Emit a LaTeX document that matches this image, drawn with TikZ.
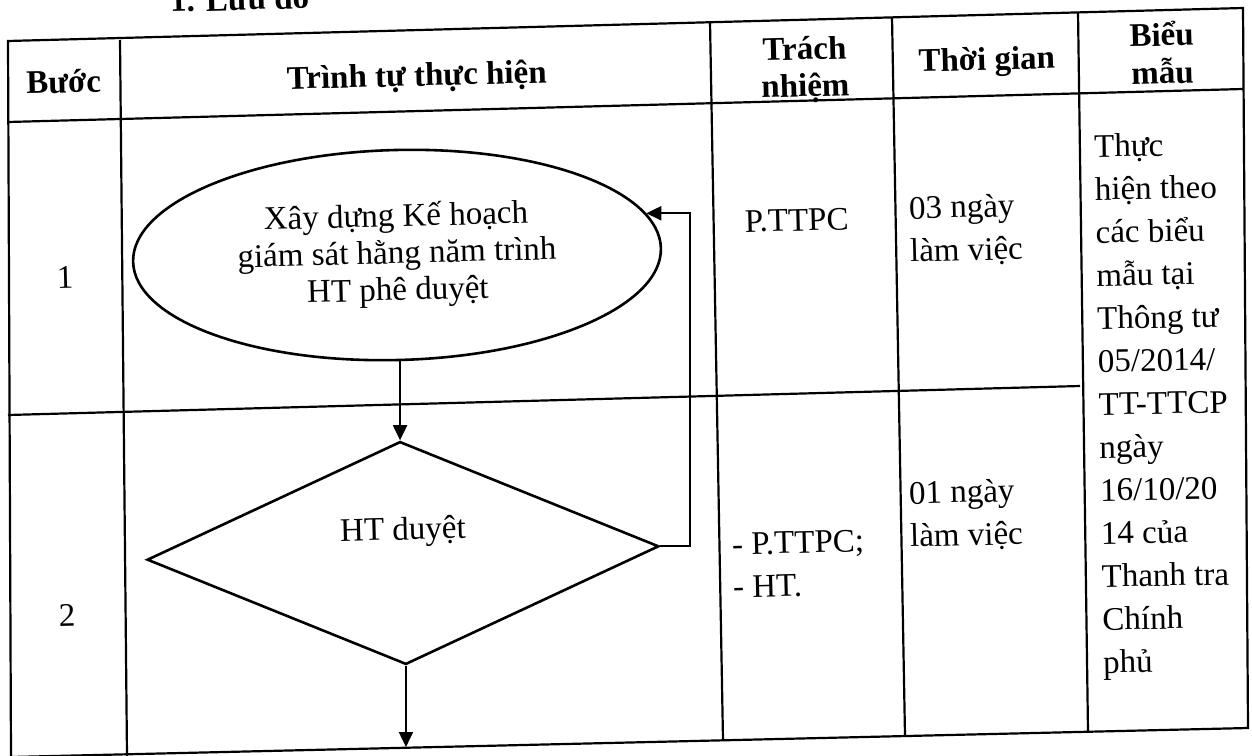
\documentclass[tikz,border=0pt]{standalone}
\usepackage{fontspec}
\setmainfont{Liberation Serif}
\usetikzlibrary{arrows.meta,shapes.geometric}
\begin{document}
\begin{tikzpicture}[x=0.5pt,y=-0.5pt,
  tline/.style={line width=1.1pt},
  shapeline/.style={line width=1.3pt},
  conn/.style={line width=1pt,-{Triangle[length=7.5pt,width=7pt]}},
  txt/.style={font=\fontsize{16.5}{21.5}\selectfont,inner sep=0pt,rotate=1.5},
  hd/.style={txt,font=\fontsize{16.5}{20}\selectfont\bfseries,align=center},
  body/.style={txt,align=left,anchor=base west},
]
\useasboundingbox (0,0) rectangle (1252,755);
\clip (0,0) rectangle (1252,755);
% table frame
\draw[tline] (8,41) -- (1243,8) -- (1248,728) -- (11,757) -- cycle;
\draw[tline] (8,122) -- (1243,89);
\draw[tline] (8,415) -- (1080,386);
\draw[tline] (120,40) -- (127,756);
\draw[tline] (710,22) -- (723,740);
\draw[tline] (892,17) -- (905,736);
\draw[tline] (1078,12) -- (1088,732);
% title and headers
\node[hd,anchor=base west] (title) at (170,12) {1. Lưu đồ};
\node[hd,anchor=base] (hstep) at (64,93) {Bước};
\node[hd,anchor=base] (hproc) at (417,86) {Trình tự thực hiện};
\node[hd,font=\fontsize{16.5}{18.5}\selectfont\bfseries] (hresp) at (805,70) {Trách\\nhiệm};
\node[hd,anchor=base] (htime) at (987,70) {Thời gian};
\node[hd,font=\fontsize{16.5}{19}\selectfont\bfseries] (hform) at (1162,53) {Biểu\\mẫu};
% step numbers
\node[txt] (n1) at (65,277) {1};
\node[txt] (n2) at (67,615) {2};
% flowchart
\node[ellipse,draw,shapeline,minimum width=264pt,minimum height=105pt,inner sep=0pt,
      txt,align=center,font=\fontsize{16.5}{18.5}\selectfont] (el) at (397,255)
      {Xây dựng Kế hoạch\\giám sát hằng năm trình\\HT phê duyệt};
\node[diamond,draw,shapeline,minimum width=256pt,minimum height=111.5pt,inner sep=0pt,rotate=1.5] (dm) at (403,553) {};
\node[txt] (dmtxt) at (403,532) {HT duyệt};
\coordinate (fbx) at (690,0);
\coordinate (endb) at (404,747);
\draw[conn] (el.south -| dm.north) -- (dm.north);
\draw[conn] (dm.east) -- (dm.east -| fbx) |- (el.8);
\draw[conn] (dm.south) -- (dm.south |- endb);
% other columns
\node[txt,anchor=base] (r1resp) at (797,231) {P.TTPC};
\node[body] (r1time) at (910,262) {03 ngày\\làm việc};
\node[body] (r2resp) at (733,598) {- P.TTPC;\\- HT.};
\node[body] (r2time) at (910,547) {01 ngày\\làm việc};
\node[body,rotate=-0.5] (form) at (1103,673) {Thực\\hiện theo\\các biểu\\mẫu tại\\Thông tư\\05/2014/\\TT-TTCP\\ngày\\16/10/20\\14 của\\Thanh tra\\Chính\\phủ};
\end{tikzpicture}
\end{document}
